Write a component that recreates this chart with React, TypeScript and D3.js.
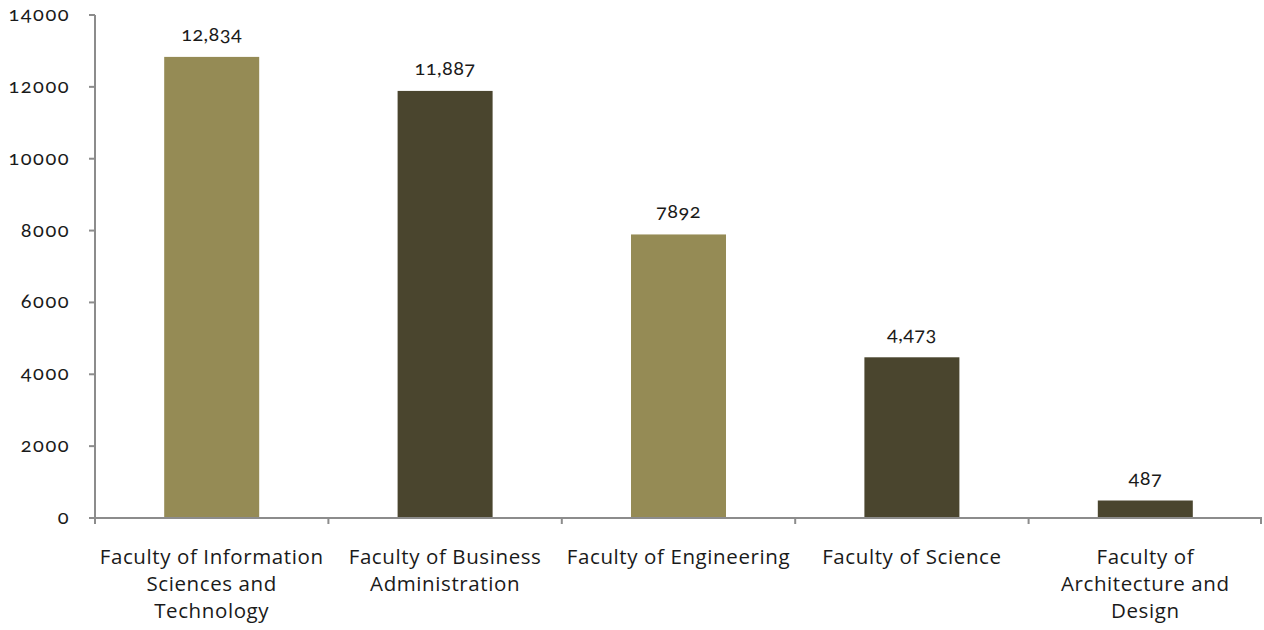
import React from "react";
import * as d3 from "d3";

const categories: string[][] = [
  ["Faculty of Information", "Sciences and", "Technology"],
  ["Faculty of Business", "Administration"],
  ["Faculty of Engineering"],
  ["Faculty of Science"],
  ["Faculty of", "Architecture and", "Design"],
];
const values: number[] = [12834, 11887, 7892, 4473, 487];
const valueLabels: string[] = ["12,834", "11,887", "7892", "4,473", "487"];
const yTicks: number[] = [0, 2000, 4000, 6000, 8000, 10000, 12000, 14000];
const barColors: string[] = ["#958B55", "#4A452E", "#958B55", "#4A452E", "#4A452E"];

const W = 1264;
const H = 630;
const M = { left: 95, right: 2, top: 15, bottom: 112 };
const NUMFONT = "Lato, 'Noto Sans', sans-serif";
const CATFONT = "'Open Sans', 'Noto Sans', sans-serif";

export default function App() {
  const keys = categories.map((_, i) => String(i));
  const xb = d3.scaleBand<string>().domain(keys).range([M.left, W - M.right]);
  const y = d3.scaleLinear().domain([0, 14000]).range([H - M.bottom, M.top]);
  const y0 = y(0);
  const axisColor = "#8C8C8C";
  const barW = 95;
  const cx = (i: number) => xb(keys[i])! + xb.bandwidth() / 2;
  return (
    <svg width={W} height={H} style={{ position: "absolute", left: 0, top: 0 }}>
      {values.map((v, i) => (
        <rect key={i} x={cx(i) - barW / 2} width={barW} y={y(v)} height={y0 - y(v)} fill={barColors[i]} />
      ))}
      {values.map((v, i) => (
        <text key={"l" + i} x={cx(i)} y={y(v) - 16} textAnchor="middle" fontSize={20} letterSpacing={0.4} fill="#1a1a1a" fontFamily={NUMFONT} style={{ fontVariantNumeric: "oldstyle-nums" }}>
          {valueLabels[i]}
        </text>
      ))}
      <line x1={M.left} x2={M.left} y1={y(14000)} y2={y0} stroke={axisColor} strokeWidth={2} />
      {yTicks.map((t) => (
        <g key={t}>
          <line x1={M.left - 6} x2={M.left} y1={y(t)} y2={y(t)} stroke={axisColor} strokeWidth={2} />
          <text x={70} y={y(t)} dy="0.3em" textAnchor="end" fontSize={20} letterSpacing={1.5} fill="#1a1a1a" fontFamily={NUMFONT} style={{ fontVariantNumeric: "oldstyle-nums" }}>
            {t}
          </text>
        </g>
      ))}
      <line x1={M.left} x2={W - M.right} y1={y0} y2={y0} stroke={axisColor} strokeWidth={2} />
      {keys.concat(["end"]).map((k, i) => {
        const xx = i < keys.length ? xb(k)! : W - M.right - 1;
        return <line key={"t" + i} x1={xx} x2={xx} y1={y0} y2={y0 + 6} stroke={axisColor} strokeWidth={2} />;
      })}
      {categories.map((lines, i) => (
        <text key={"c" + i} x={cx(i)} y={564} textAnchor="middle" fontSize={20.5} letterSpacing={0.6} fill="#1a1a1a" fontFamily={CATFONT}>
          {lines.map((ln, j) => (
            <tspan key={j} x={cx(i)} dy={j === 0 ? 0 : 27}>
              {ln}
            </tspan>
          ))}
        </text>
      ))}
    </svg>
  );
}
